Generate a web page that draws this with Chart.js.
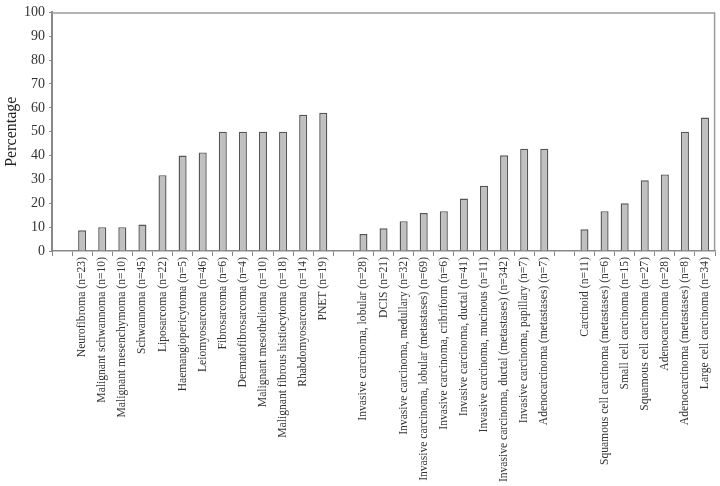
<!DOCTYPE html>
<html>
<head>
<meta charset="utf-8">
<script src="https://cdn.jsdelivr.net/npm/chart.js@4/dist/chart.umd.min.js"></script>
<style>
html,body{margin:0;padding:0;background:#fff;}
#wrap{width:720px;height:486px;}
</style>
</head>
<body>
<div id="wrap"><canvas id="c" width="720" height="486"></canvas></div>
<script>
const categories = [
  "",
  "Neurofibroma (n=23)",
  "Malignant schwannoma (n=10)",
  "Malignant mesenchymoma (n=10)",
  "Schwannoma (n=45)",
  "Liposarcoma (n=22)",
  "Haemangiopericytoma (n=5)",
  "Leiomyosarcoma (n=46)",
  "Fibrosarcoma (n=6)",
  "Dermatofibrosarcoma (n=4)",
  "Malignant mesothelioma (n=10)",
  "Malignant fibrous histiocytoma (n=18)",
  "Rhabdomyosarcoma (n=14)",
  "PNET (n=19)",
  "",
  "Invasive carcinoma, lobular (n=28)",
  "DCIS (n=21)",
  "Invasive carcinoma, medullary (n=32)",
  "Invasive carcinoma, lobular (metastases) (n=69)",
  "Invasive carcinoma, cribriform (n=6)",
  "Invasive carcinoma, ductal (n=41)",
  "Invasive carcinoma, mucinous (n=11)",
  "Invasive carcinoma, ductal (metastases) (n=342)",
  "Invasive carcinoma, papillary (n=7)",
  "Adenocarcinoma (metastases) (n=7)",
  "",
  "Carcinoid (n=11)",
  "Squamous cell carcinoma (metastases) (n=6)",
  "Small cell carcinoma (n=15)",
  "Squamous cell carcinoma (n=27)",
  "Adenocarcinoma (n=28)",
  "Adenocarcinoma (metastases) (n=8)",
  "Large cell carcinoma (n=34)"
];
const percentages = [
  null,
  8.7, 10, 10, 11.1, 31.8, 40, 41.3, 50, 50, 50, 50, 57.1, 57.9,
  null,
  7.1, 9.5, 12.5, 15.9, 16.7, 22, 27.3, 40.1, 42.9, 42.9,
  null,
  9.1, 16.7, 20, 29.6, 32.1, 50, 55.9
];
const yTicks = [0,10,20,30,40,50,60,70,80,90,100];

const frame = {
  id: 'frame',
  afterDraw(chart) {
    const a = chart.chartArea, ctx = chart.ctx;
    ctx.save();
    ctx.strokeStyle = '#9a9a9a';
    ctx.lineWidth = 1.5;
    ctx.beginPath();
    ctx.moveTo(a.left, a.top + 0.5);
    ctx.lineTo(a.right - 0.5, a.top + 0.5);
    ctx.lineTo(a.right - 0.5, a.bottom);
    ctx.stroke();
    ctx.restore();
  }
};

new Chart(document.getElementById('c'), {
  type: 'bar',
  data: {
    labels: categories,
    datasets: [{
      data: percentages,
      backgroundColor: '#c0c0c0',
      borderColor: '#555555',
      borderWidth: 1.4,
      categoryPercentage: 0.8,
      barPercentage: 0.5
    }]
  },
  options: {
    responsive: false,
    animation: false,
    layout: { padding: { top: 6, right: 3, left: 0, bottom: 0 } },
    plugins: { legend: { display: false }, tooltip: { enabled: false } },
    scales: {
      x: {
        grid: { display: true, drawOnChartArea: false, drawTicks: true, tickLength: 5, color: '#888', offset: true },
        border: { display: true, color: '#888', width: 1.5 },
        ticks: {
          autoSkip: false, maxRotation: 90, minRotation: 90, padding: 1,
          color: '#333', font: { family: 'Liberation Serif', size: 11.6 }
        },
        afterFit(s) { s.height = 235; }
      },
      y: {
        min: 0, max: 100,
        afterBuildTicks(s) { s.ticks = yTicks.map(v => ({ value: v })); },
        grid: { display: true, drawOnChartArea: false, drawTicks: true, tickLength: 3, color: '#888' },
        border: { display: true, color: '#888', width: 2 },
        ticks: { padding: 4, color: '#333', font: { family: 'Liberation Serif', size: 14 } },
        title: { display: true, text: 'Percentage', color: '#222', padding: { top: 2, bottom: 0 }, font: { family: 'Liberation Serif', size: 16 } },
        afterFit(s) { s.width = 52; }
      }
    }
  },
  plugins: [frame]
});
</script>
</body>
</html>
